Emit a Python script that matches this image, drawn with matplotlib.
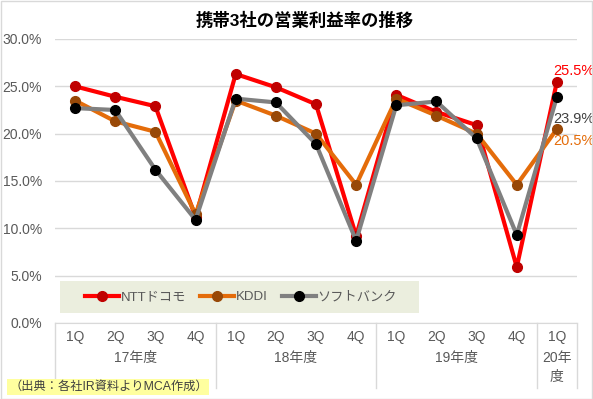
import matplotlib.pyplot as plt
from matplotlib.patches import Rectangle

plt.rcParams['font.family'] = ['Liberation Sans', 'Noto Sans CJK JP', 'DejaVu Sans']

quarters = ["1Q", "2Q", "3Q", "4Q", "1Q", "2Q", "3Q", "4Q", "1Q", "2Q", "3Q", "4Q", "1Q"]
years = ["17年度", "18年度", "19年度", "20年\n度"]
year_sizes = [4, 4, 4, 1]

docomo = [25.0, 23.9, 22.9, 11.2, 26.3, 24.9, 23.1, 9.2, 24.1, 22.3, 20.9, 5.9, 25.5]
kddi = [23.5, 21.3, 20.2, 11.5, 23.5, 21.9, 20.0, 14.6, 23.7, 21.9, 20.0, 14.6, 20.5]
softbank = [22.7, 22.5, 16.2, 10.9, 23.7, 23.3, 18.9, 8.7, 23.0, 23.4, 19.5, 9.3, 23.9]

names = ["NTTドコモ", "KDDI", "ソフトバンク"]
line_colors = ["#FF0000", "#E46C0A", "#808080"]
marker_colors = ["#C00000", "#984807", "#000000"]
label_colors = ["#FF0000", "#E46C0A", "#404040"]

fig = plt.figure(figsize=(5.93, 3.99), dpi=100)
ax = fig.add_axes([55 / 593, 1 - 323 / 399, 522 / 593, 284 / 399])

x = list(range(len(quarters)))
for vals, name, lc, mc in zip([docomo, kddi, softbank], names, line_colors, marker_colors):
    ax.plot(x, vals, color=lc, lw=3, marker="o", markersize=7,
            markerfacecolor=mc, markeredgecolor=mc, label=name, zorder=3)

# last-point labels (docomo above, kddi below, softbank between)
offsets = [(-4, 11), (-4, -12), (-4, -22)]
for vals, col, off in zip([docomo, kddi, softbank], label_colors, offsets):
    ax.annotate(f"{vals[-1]:.1f}%", (x[-1], vals[-1]), xytext=off, textcoords="offset pixels",
                ha="left", va="center", color=col, fontsize=10.5)

ax.set_xlim(-0.5, len(quarters) - 0.5)
ax.set_ylim(0, 30)
ax.set_yticks([0, 5, 10, 15, 20, 25, 30])
ax.set_yticklabels([f"{v:.1f}%" for v in [0, 5, 10, 15, 20, 25, 30]])
ax.yaxis.grid(True, color="#D9D9D9", lw=1)
ax.set_axisbelow(True)
ax.tick_params(axis="y", length=0, pad=9.5, labelsize=10, labelcolor="#595959")
ax.set_xticks(x)
ax.set_xticklabels(quarters)
ax.tick_params(axis="x", length=0, pad=5, labelsize=10, labelcolor="#595959")
for s in ["top", "right", "left"]:
    ax.spines[s].set_visible(False)
ax.spines["bottom"].set_color("#D9D9D9")

# category group labels and separators
sep_bottom = -(388 - 323) / 284
start = -0.5
for yr, n in zip(years, year_sizes):
    ax.plot([start, start], [0, sep_bottom], transform=ax.get_xaxis_transform(),
            color="#D9D9D9", lw=1, clip_on=False)
    ax.text(start + n / 2, -(351 - 323) / 284, yr, transform=ax.get_xaxis_transform(),
            ha="center", va="top", fontsize=10, color="#595959", linespacing=1.45)
    start += n
ax.plot([start, start], [0, sep_bottom], transform=ax.get_xaxis_transform(),
        color="#D9D9D9", lw=1, clip_on=False)

# legend with background band
ax.add_patch(Rectangle(((60 - 55) / 522, (323 - 313) / 284), (419 - 60) / 522, 32 / 284,
                       transform=ax.transAxes, facecolor="#EBEEDE", edgecolor="none", zorder=2))
ax.legend(loc="center", bbox_to_anchor=((85 - 55) / 522, (323 - 313) / 284, (397 - 85) / 522, 32 / 284),
          mode="expand", ncol=3, frameon=False, fontsize=9.5, borderpad=0, borderaxespad=0,
          handlelength=2.6, handletextpad=0.1, labelcolor="#595959")

fig.text(305 / 593, 1 - 20 / 399, "携帯3社の営業利益率の推移", ha="center", va="center",
         fontsize=12.5, fontweight="bold", color="#000000")

fig.text(9 / 593, 1 - 387 / 399, "（出典：各社IR資料よりMCA作成）", ha="left", va="center",
         fontsize=8.8, color="#404040",
         bbox=dict(boxstyle="square,pad=0.15", facecolor="#FFFF9F", edgecolor="none"))

fig.add_artist(Rectangle((0.001, 0.001), 0.997, 0.997, transform=fig.transFigure,
                         fill=False, edgecolor="#D9D9D9", lw=1))

fig.savefig("out.png", dpi=100)
